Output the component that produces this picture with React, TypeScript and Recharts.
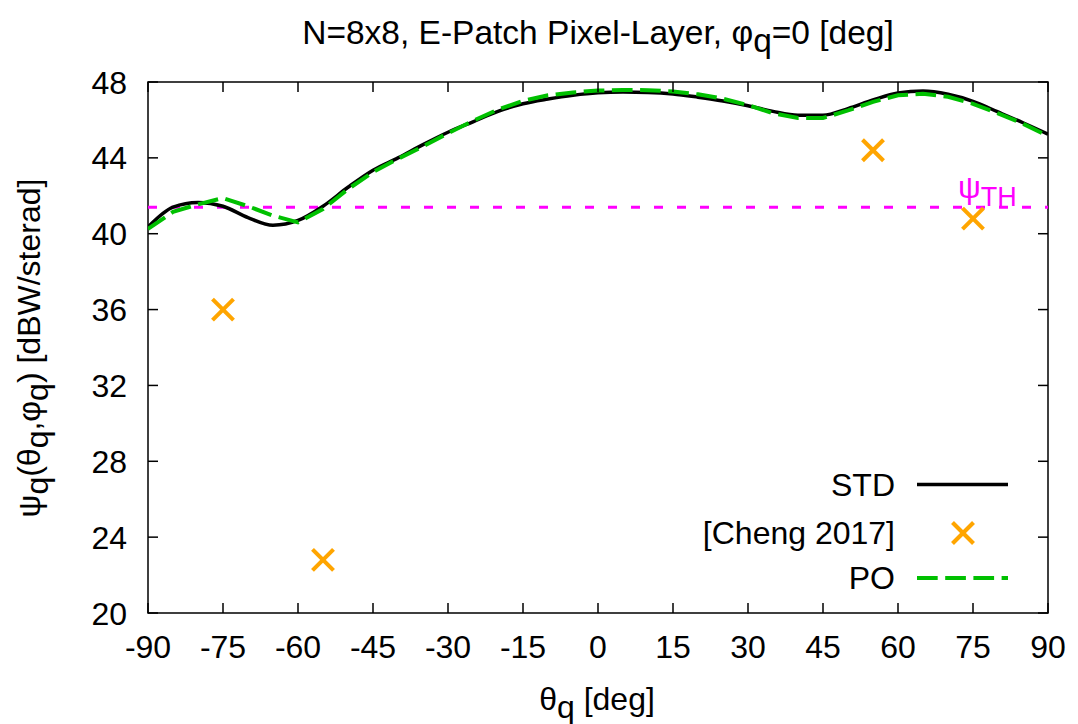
import React from 'react';
import { ComposedChart, Line, Scatter, XAxis, YAxis, ReferenceLine, ReferenceArea } from 'recharts';

// ---- data ----
const thetaDeg = [-90, -85, -80, -75, -70, -65, -60, -55, -50, -45, -40, -35, -30, -25, -20, -15, -10, -5, 0, 5, 10, 15, 20, 25, 30, 35, 40, 45, 50, 55, 60, 65, 70, 75, 80, 85, 90];
const stdPsi = [40.35, 41.4, 41.65, 41.45, 40.85, 40.45, 40.7, 41.45, 42.45, 43.35, 44.0, 44.7, 45.35, 45.9, 46.45, 46.85, 47.1, 47.3, 47.43, 47.47, 47.45, 47.37, 47.2, 47.0, 46.75, 46.45, 46.25, 46.25, 46.6, 47.05, 47.42, 47.52, 47.35, 46.98, 46.42, 45.85, 45.25];
const poPsi = [40.25, 41.15, 41.55, 41.88, 41.45, 40.95, 40.6, 41.3, 42.35, 43.25, 43.95, 44.6, 45.3, 45.95, 46.55, 47.0, 47.3, 47.45, 47.55, 47.58, 47.57, 47.5, 47.35, 47.12, 46.78, 46.35, 46.1, 46.1, 46.5, 46.95, 47.3, 47.38, 47.22, 46.85, 46.35, 45.8, 45.15];
const chengTheta = [-75, -55, 55, 75];
const chengPsi = [36.0, 22.8, 44.4, 40.8];
const psiThreshold = 41.4;
const xTicks = [-90, -75, -60, -45, -30, -15, 0, 15, 30, 45, 60, 75, 90];
const yTicks = [20, 24, 28, 32, 36, 40, 44, 48];

const data = thetaDeg.map((t, i) => ({ theta: t, std: stdPsi[i], po: poPsi[i] }));
const chengData = chengTheta.map((t, i) => ({ theta: t, cheng: chengPsi[i] }));

// ---- layout ----
const W = 1078;
const H = 724;
const XAH = 40;
const YAW = 40;
const PL = 148;
const PR = 1048;
const PT = 82;
const PB = 613;
const M = { top: PT, right: W - PR, bottom: H - PB - XAH, left: PL - YAW };
const FONT = '"Liberation Sans", Arial, Helvetica, sans-serif';
const FS = 32;
const GREEN = '#00C000';
const ORANGE = '#FFA500';
const MAGENTA = '#FF00FF';

const XTick = (props: any) => {
  const { x, payload } = props;
  return (
    <g>
      <line x1={x} x2={x} y1={PB} y2={PB - 10} stroke="#000" strokeWidth={1.5} />
      <line x1={x} x2={x} y1={PT} y2={PT + 10} stroke="#000" strokeWidth={1.5} />
      <text x={x} y={PB + 45} textAnchor="middle" fontFamily={FONT} fontSize={FS} fill="#000">
        {payload.value}
      </text>
    </g>
  );
};

const YTick = (props: any) => {
  const { y, payload } = props;
  return (
    <g>
      <line x1={PL} x2={PL + 10} y1={y} y2={y} stroke="#000" strokeWidth={1.5} />
      <line x1={PR} x2={PR - 10} y1={y} y2={y} stroke="#000" strokeWidth={1.5} />
      <text x={PL - 21} y={y + 11.5} textAnchor="end" fontFamily={FONT} fontSize={FS} fill="#000">
        {payload.value}
      </text>
    </g>
  );
};

const XMark = (props: any) => {
  const { cx, cy } = props;
  if (cx == null || cy == null) return null;
  const h = 10.5;
  return (
    <g stroke={ORANGE} strokeWidth={4}>
      <line x1={cx - h} y1={cy - h} x2={cx + h} y2={cy + h} />
      <line x1={cx - h} y1={cy + h} x2={cx + h} y2={cy - h} />
    </g>
  );
};

const ThLabel = (props: any) => {
  const vb = props.viewBox || {};
  const x = (vb.x ?? 0) + (vb.width ?? 0) - 90;
  const y = (vb.y ?? 0) - 9;
  return (
    <text x={x} y={y} fontFamily={FONT} fontSize={FS} fill={MAGENTA}>
      ψ
      <tspan dy={8} fontSize={27}>TH</tspan>
    </text>
  );
};

const Sub = ({ children }: any) => (
  <tspan dy={8}>{children}</tspan>
);

export default function App() {
  return (
    <div style={{ position: 'absolute', left: 0, top: 0, width: W, height: H, background: '#fff' }}>
      <ComposedChart width={W} height={H} data={data} margin={M}>
        <XAxis
          dataKey="theta"
          type="number"
          domain={[-90, 90]}
          ticks={xTicks}
          interval={0}
          tick={(p: any) => <XTick {...p} />}
          tickLine={false}
          axisLine={false}
          height={XAH}
          allowDataOverflow
        />
        <YAxis
          type="number"
          domain={[20, 48]}
          ticks={yTicks}
          interval={0}
          tick={(p: any) => <YTick {...p} />}
          tickLine={false}
          axisLine={false}
          width={YAW}
          allowDataOverflow
        />
        <ReferenceArea x1={-90} x2={90} y1={20} y2={48} fill="none" stroke="#000" strokeWidth={1.5} ifOverflow="visible" />
        <ReferenceLine
          y={psiThreshold}
          stroke={MAGENTA}
          strokeWidth={3}
          strokeDasharray="9 14"
          label={(p: any) => <ThLabel {...p} />}
        />
        <Line
          dataKey="std"
          type="monotone"
          stroke="#000"
          strokeWidth={3.5}
          dot={false}
          activeDot={false}
          isAnimationActive={false}
        />
        <Line
          dataKey="po"
          type="linear"
          stroke={GREEN}
          strokeWidth={4}
          strokeDasharray="20.7 7.5"
          dot={false}
          activeDot={false}
          isAnimationActive={false}
        />
        <Scatter data={chengData} dataKey="cheng" shape={(p: any) => <XMark {...p} />} isAnimationActive={false} />
      </ComposedChart>
      <svg
        width={W}
        height={H}
        style={{ position: 'absolute', left: 0, top: 0, pointerEvents: 'none' }}
      >
        <g fontFamily={FONT} fontSize={FS} fill="#000">
          <text x={598} y={44} textAnchor="middle" fontSize={33.5}>
            N=8x8, E-Patch Pixel-Layer, φ<Sub>q</Sub>
            <tspan dy={-8}>=0 [deg]</tspan>
          </text>
          <text x={597} y={710} textAnchor="middle">
            θ<Sub>q</Sub>
            <tspan dy={-8}> [deg]</tspan>
          </text>
          <text transform="rotate(-90)" x={-348} y={40} textAnchor="middle">
            ψ<Sub>q</Sub>
            <tspan dy={-8}>(θ</tspan>
            <Sub>q</Sub>
            <tspan dy={-8}>,φ</tspan>
            <Sub>q</Sub>
            <tspan dy={-8}>) [dBW/sterad]</tspan>
          </text>
          {/* legend */}
          <text x={895} y={496} textAnchor="end">STD</text>
          <line x1={917} x2={1008} y1={484.5} y2={484.5} stroke="#000" strokeWidth={3.5} />
          <text x={895} y={544} textAnchor="end">[Cheng 2017]</text>
          <g stroke={ORANGE} strokeWidth={4}>
            <line x1={952.5} y1={522.5} x2={973.5} y2={543.5} />
            <line x1={952.5} y1={543.5} x2={973.5} y2={522.5} />
          </g>
          <text x={895} y={589} textAnchor="end">PO</text>
          <line x1={917} x2={1008} y1={578} y2={578} stroke={GREEN} strokeWidth={4} strokeDasharray="20.7 7.5" />
        </g>
      </svg>
    </div>
  );
}
